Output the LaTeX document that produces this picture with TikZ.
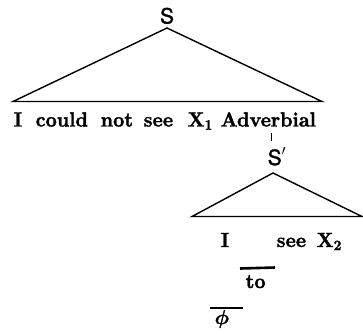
\documentclass[tikz,border=0pt]{standalone}
\usepackage{fontspec}
\newfontfamily\hvfont{TeX Gyre Heros}[FakeBold=1.5]
\newfontfamily\heavyfont{lmroman10-bold.otf}[FakeBold=1.5,FakeStretch=0.95]
\newfontfamily\phifont{latinmodern-math.otf}[FakeBold=1.5]
\begin{document}
\begin{tikzpicture}[x=1pt,y=-1pt,line width=1.4pt,line join=miter,
  word/.style={anchor=base west,inner sep=0pt,font=\fontsize{20.5}{20.5}\selectfont\heavyfont},
  cat/.style={anchor=base,inner sep=0pt,font=\fontsize{21}{21}\selectfont\hvfont},
  bar/.style={line width=2.6pt}]
\useasboundingbox (0,0) rectangle (363,333);
% top tree
\node[cat] (S) at (167,23.5) {S};
\coordinate (a1) at (167,28);
\coordinate (l1) at (13,101.5);
\coordinate (r1) at (322,101.5);
\draw (l1) -- (a1) -- (r1) -- cycle;
\node[word] (w1) at (13,126.5) {I};
\node[word] (w2) at (35,126.5) {could};
\node[word] (w3) at (100,126.5) {not};
\node[word] (w4) at (143,126.5) {see};
\node[word] (w5) at (187,126.5) {X\textsubscript{1}};
\node[word] (w6) at (220,126.5) {Adverbial};
% tick
\coordinate (t1) at (271,133);
\coordinate (t2) at (271,141);
\draw[line width=1pt] (t1) -- (t2);
% lower tree
\node[cat,anchor=base west] (S2) at (267,165) {S\raisebox{0.1em}{$'$}};
\coordinate (a2) at (273,173);
\coordinate (l2) at (192,216.5);
\coordinate (r2) at (362,216.5);
\draw (l2) -- (a2) -- (r2) -- cycle;
\node[word] (v1) at (220,247) {I};
\node[word] (v2) at (276,247) {see};
\node[word] (v3) at (316,247) {X\textsubscript{2}};
% to
\coordinate (b1) at (240,268.5);
\coordinate (b2) at (275,267.5);
\draw[bar] (b1) -- (b2);
\node[word] (to) at (245,288) {to};
% phi
\coordinate (c1) at (210,308);
\coordinate (c2) at (243,308);
\draw[bar,line width=2.2pt] (c1) -- (c2);
\node[anchor=base west,inner sep=0pt,font=\fontsize{20}{20}\selectfont\phifont] (phi) at (214,324) {𝝓};
\end{tikzpicture}
\end{document}
